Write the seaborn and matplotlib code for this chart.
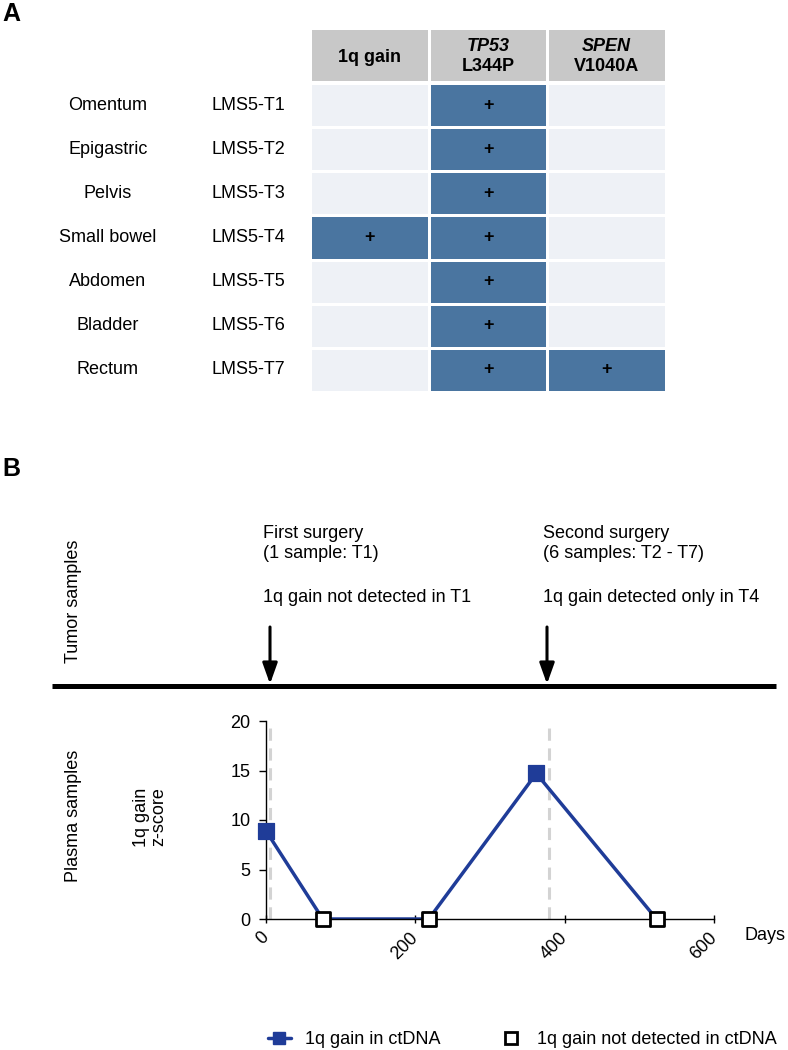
import numpy as np
import pandas as pd
import matplotlib
matplotlib.use("Agg")
import matplotlib.pyplot as plt
import matplotlib.transforms as mtransforms
import seaborn as sns
from matplotlib.colors import ListedColormap
from matplotlib.lines import Line2D

# ---------------- data ----------------
sites = ["Omentum", "Epigastric", "Pelvis", "Small bowel", "Abdomen", "Bladder", "Rectum"]
samples = ["LMS5-T1", "LMS5-T2", "LMS5-T3", "LMS5-T4", "LMS5-T5", "LMS5-T6", "LMS5-T7"]
alterations = ["1q gain", "TP53 L344P", "SPEN V1040A"]
gain_1q = [0, 0, 0, 1, 0, 0, 0]
tp53_l344p = [1, 1, 1, 1, 1, 1, 1]
spen_v1040a = [0, 0, 0, 0, 0, 0, 1]

days = [0, 76, 218, 362, 523]
zscore = [8.9, 0.0, 0.0, 14.7, 0.0]
detected = [True, False, False, True, False]
surgery_days = [6, 379]
y_ticks = [0, 5, 10, 15, 20]
x_ticks = [0, 200, 400, 600]

# ---------------- style ----------------
sns.set_theme(style="white")
plt.rcParams['font.family'] = ['Liberation Sans', 'DejaVu Sans']
plt.rcParams['text.color'] = 'black'
plt.rcParams['xtick.color'] = 'black'
plt.rcParams['ytick.color'] = 'black'
plt.rcParams['axes.labelcolor'] = 'black'

DARK = "#4A75A0"
LIGHT = "#EEF1F6"
HEAD = "#C8C8C8"
NAVY = "#1F3C98"
FS = 13

W, H = 788, 1050
fig = plt.figure(figsize=(W / 100, H / 100), dpi=100)


def fx(px):
    return px / W


def fy(py):
    return 1 - py / H


# ---------------- Panel A ----------------
fig.text(fx(2), fy(14), "A", fontsize=18, fontweight="bold", va="center", ha="left")

mat = pd.DataFrame({alterations[0]: gain_1q,
                    alterations[1]: tp53_l344p,
                    alterations[2]: spen_v1040a}, index=samples)
annot = np.where(mat.values == 1, "+", "")

ax_t = fig.add_axes([fx(310), fy(392), fx(666) - fx(310), fy(83) - fy(392)])
sns.heatmap(mat, ax=ax_t, cmap=ListedColormap([LIGHT, DARK]), vmin=0, vmax=1,
            cbar=False, linewidths=2, linecolor="white", annot=annot, fmt="",
            annot_kws=dict(color="black", fontsize=FS, fontweight="bold"))
ax_t.set_xticks([])
ax_t.set_yticks([])
ax_t.set_xlabel("")
ax_t.set_ylabel("")

trans = mtransforms.blended_transform_factory(fig.transFigure, ax_t.transData)
for i, (site, samp) in enumerate(zip(sites, samples)):
    ax_t.text(fx(108), i + 0.5, site, transform=trans, ha="center", va="center", fontsize=FS)
    ax_t.text(fx(248), i + 0.5, samp, transform=trans, ha="center", va="center", fontsize=FS)

# header row
ax_h = fig.add_axes([fx(310), fy(82), fx(666) - fx(310), fy(28) - fy(82)])
sns.heatmap(pd.DataFrame([[0, 0, 0]], columns=alterations), ax=ax_h,
            cmap=ListedColormap([HEAD]), cbar=False, linewidths=2, linecolor="white")
ax_h.set_xticks([])
ax_h.set_yticks([])
ax_h.set_xlabel("")
ax_h.set_ylabel("")
ax_h.text(0.5, 0.54, "1q gain", ha="center", va="center", fontsize=FS, fontweight="bold")
for j, lab in enumerate(alterations[1:], start=1):
    gene, var = lab.split(" ")
    ax_h.text(j + 0.5, 0.35, gene, ha="center", va="center", fontsize=FS,
              fontweight="bold", fontstyle="italic")
    ax_h.text(j + 0.5, 0.72, var, ha="center", va="center", fontsize=FS, fontweight="bold")

# ---------------- Panel B ----------------
fig.text(fx(2), fy(469), "B", fontsize=18, fontweight="bold", va="center", ha="left")

fig.text(fx(73), fy(601), "Tumor samples", rotation=90, ha="center", va="center", fontsize=FS)
fig.text(fx(74), fy(816), "Plasma samples", rotation=90, ha="center", va="center", fontsize=FS)
fig.text(fx(150), fy(817), "1q gain\nz-score", rotation=90, ha="center", va="center",
         fontsize=FS, linespacing=1.0, multialignment="center")

fig.add_artist(Line2D([fx(52), fx(776)], [fy(686), fy(686)], color="black", lw=3.6,
                      transform=fig.transFigure, solid_capstyle="butt"))

events = [("First surgery", "(1 sample: T1)", "1q gain not detected in T1", 263, 270),
          ("Second surgery", "(6 samples: T2 - T7)", "1q gain detected only in T4", 543, 547)]
for t1, t2, t3, xt, xa in events:
    fig.text(fx(xt), fy(533), t1, ha="left", va="center", fontsize=FS)
    fig.text(fx(xt), fy(554), t2, ha="left", va="center", fontsize=FS)
    fig.text(fx(xt), fy(597), t3, ha="left", va="center", fontsize=FS)
    fig.add_artist(matplotlib.patches.FancyArrowPatch(
        (fx(xa), fy(627)), (fx(xa), fy(684)), transform=fig.transFigure,
        arrowstyle="-|>,head_length=0.7,head_width=0.25", mutation_scale=18,
        color="black", lw=2.2, shrinkA=0, shrinkB=0))

ax_p = fig.add_axes([fx(266), fy(919), fx(714) - fx(266), fy(721) - fy(919)])
for d in surgery_days:
    ax_p.axvline(d, color="#D3D3D3", ls=(0, (4, 2.5)), lw=2.2, zorder=0)

sns.lineplot(x=days, y=zscore, ax=ax_p, color=NAVY, lw=2.5, zorder=2)
det_x = [d for d, k in zip(days, detected) if k]
det_y = [z for z, k in zip(zscore, detected) if k]
nd_x = [d for d, k in zip(days, detected) if not k]
nd_y = [z for z, k in zip(zscore, detected) if not k]
sns.scatterplot(x=det_x, y=det_y, ax=ax_p, marker="s", s=120, color=NAVY,
                edgecolor=NAVY, zorder=3, clip_on=False)
sns.scatterplot(x=nd_x, y=nd_y, ax=ax_p, marker="s", s=110, color="white",
                edgecolor="black", linewidth=2, zorder=3, clip_on=False)

ax_p.set_xlim(0, 600)
ax_p.set_ylim(0, 20)
ax_p.set_xticks(x_ticks)
ax_p.set_yticks(y_ticks)
ax_p.set_xticklabels([str(v) for v in x_ticks], rotation=45, ha="right", va="center",
                     rotation_mode="anchor", fontsize=FS)
ax_p.set_yticklabels([str(v) for v in y_ticks], fontsize=FS)
sns.despine(ax=ax_p)
for s in ["left", "bottom"]:
    ax_p.spines[s].set_color("black")
    ax_p.spines[s].set_linewidth(1.0)
ax_p.tick_params(axis="y", direction="out", length=5, width=1, color="black", left=True, pad=6)
ax_p.tick_params(axis="x", direction="inout", length=6, width=1, color="black", bottom=True, pad=8.5)
fig.text(fx(765), fy(936), "Days", ha="center", va="center", fontsize=FS)

h1 = Line2D([], [], color=NAVY, lw=2.5, marker="s", markersize=8)
h2 = Line2D([], [], color="none", marker="s", markerfacecolor="white",
            markeredgecolor="black", markeredgewidth=2, markersize=8, linestyle="none")
fig.legend([h1, h2], ["1q gain in ctDNA", "1q gain not detected in ctDNA"],
           loc="center", bbox_to_anchor=(fx(522), fy(1040)), ncol=2, frameon=False,
           handlelength=1.3, columnspacing=3.2, handletextpad=0.8, fontsize=13)

fig.savefig("out.png", dpi=100)
